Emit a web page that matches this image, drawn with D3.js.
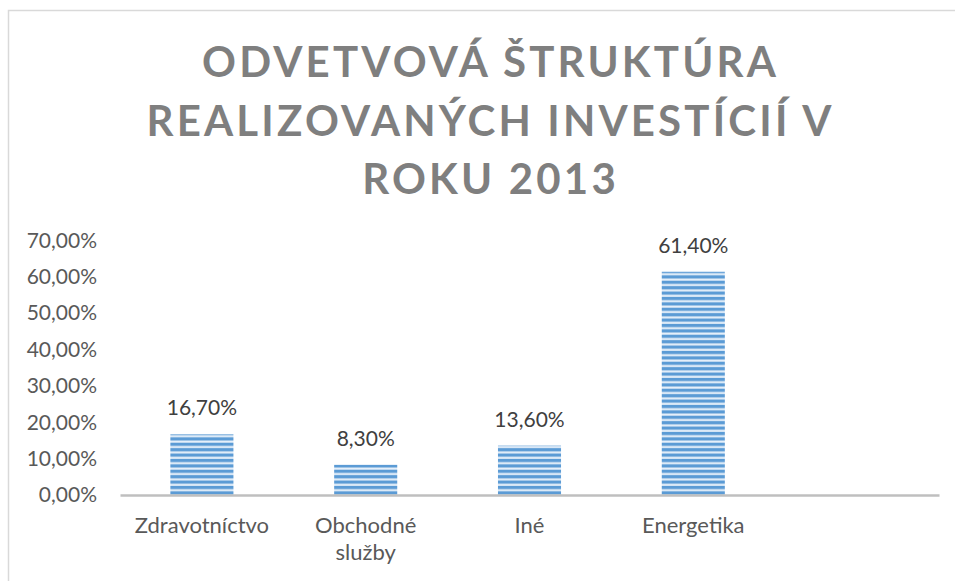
<!DOCTYPE html>
<html>
<head>
<meta charset="utf-8">
<script src="https://cdn.jsdelivr.net/npm/d3@7"></script>
<style>
  body { margin: 0; background: #fff; }
  svg { display: block; }
</style>
</head>
<body>
<svg></svg>
<script>
// data
var categories = ["Zdravotníctvo", "Obchodné služby", "Iné", "Energetika", ""];
var values = [0.167, 0.083, 0.136, 0.614];
var yTicks = [0, 0.1, 0.2, 0.3, 0.4, 0.5, 0.6, 0.7];
var titleLines = ["ODVETVOVÁ ŠTRUKTÚRA", "REALIZOVANÝCH INVESTÍCIÍ V", "ROKU 2013"];

var W = 955, H = 581;

var svg = d3.select("svg")
    .attr("width", W)
    .attr("height", H);

// slovak number format: comma decimals
var sk = d3.formatLocale({ decimal: ",", thousands: " ", grouping: [3], currency: ["", " €"] });
var pct = sk.format(".2%");

// chart frame (runs off the right and bottom edge)
svg.append("rect")
    .attr("x", 8.5).attr("y", 10.5)
    .attr("width", 1000).attr("height", 1000)
    .attr("fill", "#fff")
    .attr("stroke", "#d9d9d9")
    .attr("stroke-width", 1.5);

// striped fill like the excel pattern
var defs = svg.append("defs");
var pat = defs.append("pattern")
    .attr("id", "stripes")
    .attr("patternUnits", "userSpaceOnUse")
    .attr("width", 10).attr("height", 5.4);
pat.append("rect").attr("width", 10).attr("height", 5.4).attr("fill", "#5b9bd5");
pat.append("rect").attr("y", 3).attr("width", 10).attr("height", 2.4).attr("fill", "#c9ddf1");
pat.append("rect").attr("y", 3.6).attr("width", 10).attr("height", 1.2).attr("fill", "#e6f0fa");

// title
var title = svg.append("text")
    .attr("text-anchor", "middle")
    .style("font-family", "Lato, sans-serif")
    .style("font-weight", "bold")
    .style("font-size", "42px")
    .attr("fill", "#7f7f7f");

var baselines = [77, 136, 194];
titleLines.forEach(function(t, i) {
  title.append("tspan")
      .attr("x", 489)
      .attr("y", baselines[i])
      .text(t);
});

// stretch letter spacing so the middle line is as wide as in the picture
var mid = title.selectAll("tspan").nodes()[1];
var natural = mid.getComputedTextLength();
var spacing = (685 - natural) / (titleLines[1].length - 1);
title.style("letter-spacing", spacing + "px");
// keep lines centred (trailing spacing shifts them right)
title.selectAll("tspan").attr("x", 489 + spacing / 2);

// scales
var x = d3.scaleBand()
    .domain(categories)
    .range([120, 939])
    .paddingInner(0)
    .paddingOuter(0);

var y = d3.scaleLinear()
    .domain([0, 0.7])
    .range([495, 240.5]);

var barW = x.bandwidth() * 0.385;

// y axis labels
var yAxis = d3.axisLeft(y)
    .tickValues(yTicks)
    .tickFormat(pct)
    .tickSize(0)
    .tickPadding(23);

var gy = svg.append("g")
    .attr("transform", "translate(120,0)")
    .call(yAxis);
gy.select(".domain").remove();
gy.selectAll("text")
    .style("font-family", "Lato, sans-serif")
    .style("font-size", "21px")
    .attr("fill", "#595959");

// bars
svg.append("g").selectAll("rect")
    .data(values)
    .join("rect")
    .attr("x", function(d, i) { return x(categories[i]) + (x.bandwidth() - barW) / 2; })
    .attr("y", function(d) { return y(d); })
    .attr("width", barW)
    .attr("height", function(d) { return y(0) - y(d); })
    .attr("fill", "url(#stripes)");

// data labels
svg.append("g").selectAll("text")
    .data(values)
    .join("text")
    .attr("x", function(d, i) { return x(categories[i]) + x.bandwidth() / 2; })
    .attr("y", function(d) { return y(d) - 19; })
    .attr("text-anchor", "middle")
    .style("font-family", "Lato, sans-serif")
    .style("font-size", "21px")
    .attr("fill", "#404040")
    .text(function(d) { return pct(d); });

// x axis
var xAxis = d3.axisBottom(x)
    .tickSize(0)
    .tickPadding(0);

var gx = svg.append("g")
    .attr("transform", "translate(0," + y(0) + ")")
    .call(xAxis);
gx.select(".domain")
    .attr("stroke", "#bfbfbf")
    .attr("stroke-width", 2.5);

// wrap long category names onto two lines
gx.selectAll("text")
    .style("font-family", "Lato, sans-serif")
    .style("font-size", "22px")
    .attr("fill", "#595959")
    .attr("dy", null)
    .each(function(d) {
      var t = d3.select(this);
      var words = d.split(" ");
      t.text(null);
      var line = [], tspan = t.append("tspan").attr("x", 0).attr("y", 38), n = 0;
      words.forEach(function(w) {
        line.push(w);
        tspan.text(line.join(" "));
        if (tspan.node().getComputedTextLength() > x.bandwidth() * 0.85 && line.length > 1) {
          line.pop();
          tspan.text(line.join(" "));
          line = [w];
          n++;
          tspan = t.append("tspan").attr("x", 0).attr("y", 38 + n * 27).text(w);
        }
      });
    });
</script>
</body>
</html>
